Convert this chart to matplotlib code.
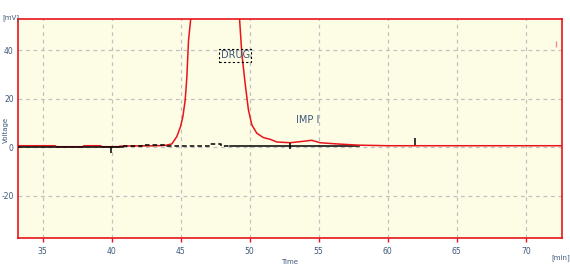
import numpy as np
import matplotlib.pyplot as plt

# chromatogram trace (time in min, signal in mV)
trace_t = [33.22, 35.9, 36.0, 37.9, 38.0, 39.2, 39.3, 40.5, 40.6, 42.2, 43.0, 43.9,
           44.36, 44.72, 44.99, 45.16, 45.33, 45.45, 45.57, 45.74, 46.2, 47.0,
           48.0, 48.8, 49.26, 49.43, 49.67, 49.91, 50.16, 50.52, 51.0, 51.49,
           51.97, 52.93, 53.9, 54.5, 55.1, 56.32, 57.88, 60.0, 65.0, 72.6]
trace_v = [0.66, 0.66, 0.25, 0.25, 0.66, 0.66, 0.25, 0.25, 0.5, 0.6, 0.6, 0.8,
           1.4, 4.4, 8.5, 12.6, 19.5, 29.0, 44.0, 53.5, 150.0, 300.0,
           250.0, 120.0, 53.5, 38.8, 26.4, 15.4, 9.2, 5.8, 4.0, 3.3,
           2.2, 1.9, 2.5, 2.9, 1.9, 1.4, 0.9, 0.66, 0.66, 0.66]

# baseline pieces
base_solid_t = [33.22, 40.85]
base_solid_v = [0.0, 0.0]
base_dash_t = [40.85, 42.19, 42.19, 44.0, 44.0, 47.1, 47.1, 47.9, 47.9, 48.6]
base_dash_v = [0.6, 0.6, 1.0, 1.0, 0.6, 0.6, 1.2, 1.2, 0.6, 0.6]
base_tail_t = [48.6, 57.9]
base_tail_v = [0.6, 0.6]

# event markers
marker_t = [39.95, 52.93, 62.0]
marker_lo = [-2.4, -0.7, 1.0]
marker_hi = [0.0, 1.8, 4.0]

peak_names = ["DRUG", "IMP I"]
peak_label_t = [48.95, 54.19]
peak_label_v = [38.0, 11.3]

xticks = [35, 40, 45, 50, 55, 60, 65, 70]
yticks = [-20, 0, 20, 40]

W, H = 570, 268
fig = plt.figure(figsize=(W / 100, H / 100), dpi=100)
ax = fig.add_axes([18 / W, 1 - 238.3 / H, (561.7 - 18) / W, (238.3 - 19) / H])
ax.set_facecolor("#fdfde6")

ax.plot(base_tail_t, base_tail_v, color="black", lw=1.1, zorder=2)
ax.plot(trace_t, trace_v, color="#e8141b", lw=1.1, zorder=3)
ax.plot(base_solid_t, base_solid_v, color="black", lw=1.1, zorder=4)
ax.plot(base_dash_t, base_dash_v, color="black", lw=1.1, ls=(0, (3, 2)), zorder=4)
ax.vlines(marker_t, marker_lo, marker_hi, color="black", lw=1.1, zorder=5)
ax.vlines([72.19], [41.5], [43.8], color="#f08aa0", lw=1.0, zorder=5)

lab_col = "#3d5878"
nfont = ["Liberation Sans Narrow", "DejaVu Sans"]
ax.text(peak_label_t[0], peak_label_v[0], peak_names[0], ha="center", va="center",
        fontsize=7, color=lab_col, family=nfont, zorder=6,
        bbox=dict(boxstyle="square,pad=0.15", fc="none", ec="black", ls=(0, (2, 2)), lw=0.8))
ax.text(peak_label_t[1], peak_label_v[1], peak_names[1], ha="center", va="center",
        fontsize=7, color=lab_col, family=nfont, zorder=6)

ax.set_xlim(33.22, 72.6)
ax.set_ylim(-37.5, 52.9)
ax.set_xticks(xticks)
ax.set_yticks(yticks)
ax.grid(True, color="#c0c0c0", ls=(0, (3, 3)), lw=0.9)
ax.set_axisbelow(True)
for s in ax.spines.values():
    s.set_color("#e8141b")
    s.set_linewidth(1.2)
ax.tick_params(axis="x", colors="#e8141b", length=3, width=1.0, pad=3,
               labelsize=5.5, labelcolor="#3d5878")
ax.tick_params(axis="y", length=0, pad=3, labelsize=5.5, labelcolor="#3d5878")
ax.set_yticklabels([str(v) for v in yticks])
for lab in ax.get_xticklabels() + ax.get_yticklabels():
    lab.set_family(nfont)

fig.text(11 / W, 1 - 18 / H, "[mV]", ha="center", va="center", fontsize=5,
         color="#3d5878", family=nfont)
fig.text(6 / W, 1 - 130 / H, "Voltage", ha="center", va="center", fontsize=5,
         rotation=90, color="#3d5878", family=nfont)
fig.text(290 / W, 1 - 261.7 / H, "Time", ha="center", va="center", fontsize=5,
         color="#3d5878", family=nfont)
fig.text(560.7 / W, 1 - 257.7 / H, "[min]", ha="center", va="center", fontsize=5,
         color="#3d5878", family=nfont)

fig.savefig("out.png", dpi=100)
